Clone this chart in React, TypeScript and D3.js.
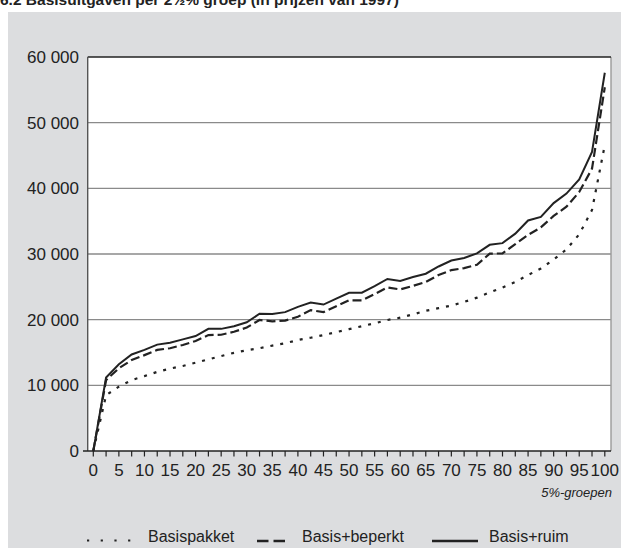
import React from "react";
import * as d3 from "d3";

const groups: number[] = [0, 2.5, 5, 7.5, 10, 12.5, 15, 17.5, 20, 22.5, 25, 27.5, 30, 32.5, 35, 37.5, 40, 42.5, 45, 47.5, 50, 52.5, 55, 57.5, 60, 62.5, 65, 67.5, 70, 72.5, 75, 77.5, 80, 82.5, 85, 87.5, 90, 92.5, 95, 97.5, 100];

const basispakket: number[] = [0, 8500, 9800, 10800, 11400, 12050, 12550, 12950, 13450, 13950, 14450, 14950, 15350, 15650, 16050, 16400, 16900, 17250, 17650, 18100, 18550, 19000, 19450, 19950, 20300, 20800, 21350, 21750, 22150, 22700, 23350, 24150, 24900, 25750, 26800, 27800, 29150, 30700, 33000, 36700, 46600];

const basisBeperkt: number[] = [0, 10800, 12600, 13850, 14600, 15400, 15650, 16150, 16750, 17650, 17700, 18150, 18800, 19950, 19750, 19850, 20450, 21450, 21150, 22050, 22950, 22950, 23900, 24900, 24600, 25150, 25750, 26800, 27550, 27850, 28350, 30050, 30100, 31500, 32900, 34050, 35800, 37200, 39450, 43000, 55400];

const basisRuim: number[] = [0, 11200, 13200, 14700, 15400, 16200, 16500, 17000, 17500, 18600, 18600, 19000, 19600, 20900, 20850, 21150, 21950, 22600, 22300, 23200, 24100, 24100, 25100, 26200, 25900, 26500, 27000, 28100, 29000, 29400, 30100, 31400, 31650, 33100, 35100, 35650, 37750, 39200, 41350, 45550, 57600];

const yTicks: number[] = [0, 10000, 20000, 30000, 40000, 50000, 60000];
const xLabels: number[] = [0, 5, 10, 15, 20, 25, 30, 35, 40, 45, 50, 55, 60, 65, 70, 75, 80, 85, 90, 95, 100];
const xMinor: number[] = groups;

const title = "6.2  Basisuitgaven per 2½% groep (in prijzen van 1997)";
const xAxisTitle = "5%-groepen";
const legendLabels: string[] = ["Basispakket", "Basis+beperkt", "Basis+ruim"];

const FONT = "Arial, 'Liberation Sans', Helvetica, sans-serif";
const INK = "#222";

export default function App() {
  const W = 621;
  const H = 548;
  const plotLeft = 87.7;
  const plotRight = 611;
  const plotTop = 57;
  const plotBottom = 451;

  const x = d3.scaleLinear().domain([0, 100]).range([93.3, 604.8]);
  const y = d3.scaleLinear().domain([0, 60000]).range([plotBottom, plotTop]);

  const fmt = (v: number) => {
    if (v === 0) return "0";
    const s = String(v);
    return s.slice(0, s.length - 3) + " " + s.slice(s.length - 3);
  };

  const line = d3
    .line<[number, number]>()
    .x((d) => x(d[0]))
    .y((d) => y(d[1]));

  const mk = (vals: number[]) => line(groups.map((g, i) => [g, vals[i]] as [number, number])) || "";

  return (
    <svg
      width={W}
      height={H}
      style={{ position: "absolute", left: 0, top: 0, display: "block" }}
      fontFamily={FONT}
    >
      <rect x={8} y={12} width={W - 8} height={H - 12} fill="#dcdddf" />
      <text x={0} y={5} fontSize={15.5} fontWeight="bold" fill={INK}>
        {title}
      </text>

      <rect x={plotLeft} y={plotTop} width={plotRight - plotLeft} height={plotBottom - plotTop} fill="#fff" />

      {yTicks.slice(1, -1).map((t) => (
        <line key={"g" + t} x1={plotLeft} x2={plotRight} y1={y(t)} y2={y(t)} stroke="#8a8a8a" strokeWidth={1.4} />
      ))}
      <line x1={plotRight} x2={plotRight} y1={plotTop} y2={plotBottom} stroke="#9a9a9a" strokeWidth={1.4} />
      <line x1={plotLeft} x2={plotRight} y1={plotTop} y2={plotTop} stroke={INK} strokeWidth={1.4} />
      <line x1={plotLeft} x2={plotLeft} y1={plotTop} y2={plotBottom} stroke="#555" strokeWidth={1.4} />
      <line x1={83} x2={plotRight} y1={plotBottom} y2={plotBottom} stroke={INK} strokeWidth={1.4} />

      {xMinor.map((t) => (
        <line key={"t" + t} x1={x(t)} x2={x(t)} y1={plotBottom} y2={plotBottom + 5.5} stroke={INK} strokeWidth={1.2} />
      ))}

      {yTicks.map((t) => (
        <text key={"y" + t} x={79} y={y(t)} dy="0.36em" textAnchor="end" fontSize={17} fill={INK}>
          {fmt(t)}
        </text>
      ))}

      {xLabels.map((t) => (
        <text key={"x" + t} x={x(t)} y={476} textAnchor="middle" fontSize={17} fill={INK}>
          {String(t)}
        </text>
      ))}

      <text x={612} y={497} textAnchor="end" fontSize={13} fontStyle="italic" fill={INK}>
        {xAxisTitle}
      </text>

      <path d={mk(basispakket)} fill="none" stroke={INK} strokeWidth={2.2} strokeDasharray="3,7" />
      <path d={mk(basisBeperkt)} fill="none" stroke={INK} strokeWidth={2.2} strokeDasharray="9,4" />
      <path d={mk(basisRuim)} fill="none" stroke={INK} strokeWidth={2} />

      {/* legend */}
      <line x1={87} x2={133} y1={540.5} y2={540.5} stroke={INK} strokeWidth={2.2} strokeDasharray="2.2,11.5" />
      <text x={148} y={542} fontSize={16} fill={INK}>{legendLabels[0]}</text>
      <line x1={257} x2={268.5} y1={541} y2={541} stroke={INK} strokeWidth={2.5} />
      <line x1={273.5} x2={285} y1={541} y2={541} stroke={INK} strokeWidth={2.5} />
      <text x={302} y={542} fontSize={16} fill={INK}>{legendLabels[1]}</text>
      <line x1={432} x2={478} y1={541} y2={541} stroke={INK} strokeWidth={2.5} />
      <text x={489} y={542} fontSize={16} fill={INK}>{legendLabels[2]}</text>
    </svg>
  );
}
